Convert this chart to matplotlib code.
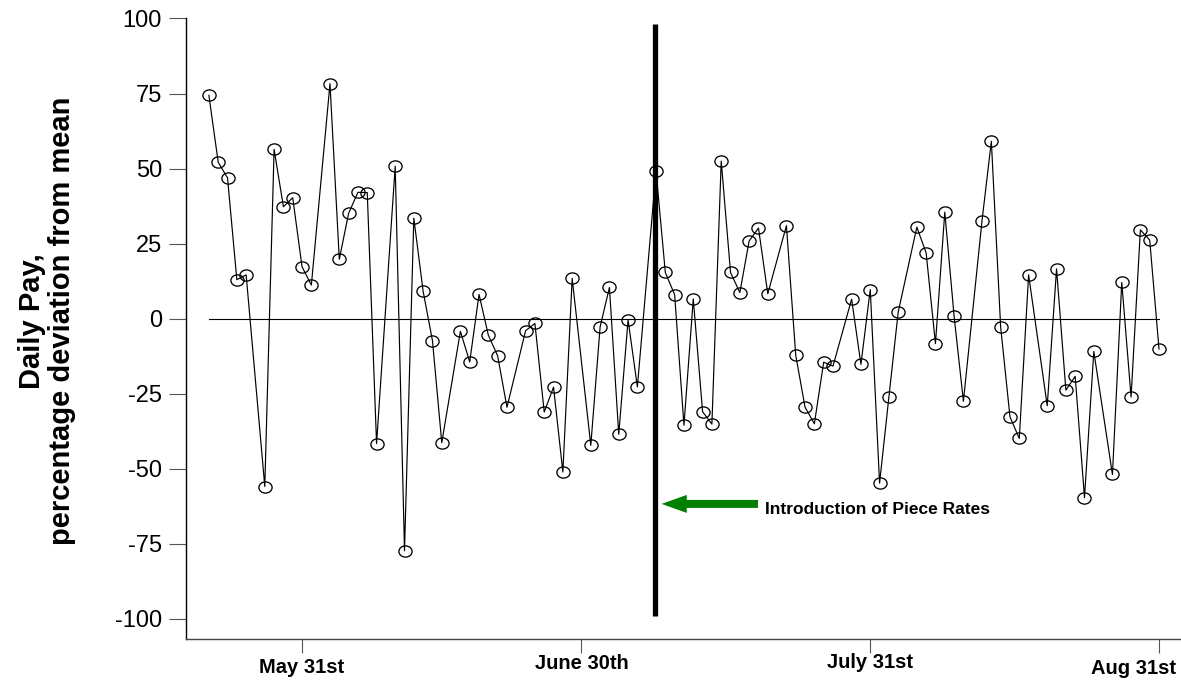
import matplotlib
matplotlib.use("Agg")
import matplotlib.pyplot as plt
from matplotlib.path import Path
from matplotlib.patches import FancyArrow
from matplotlib.transforms import ScaledTranslation
import numpy as np

plt.rcParams['font.family'] = ['Liberation Sans', 'DejaVu Sans']

# days relative to May 31st (0), one point per working day
days = [-10, -9, -8, -7, -6, -4, -3, -2, -1, 0, 1, 3, 4, 5, 6, 7, 8, 10, 11, 12,
        13, 14, 15, 17, 18, 19, 20, 21, 22, 24, 25, 26, 27, 28, 29, 31, 32, 33, 34, 35,
        36, 38, 39, 40, 41, 42, 43, 44, 45, 46, 47, 48, 49, 50, 52, 53, 54, 55, 56, 57,
        59, 60, 61, 62, 63, 64, 66, 67, 68, 69, 70, 71, 73, 74, 75, 76, 77, 78, 80, 81,
        82, 83, 84, 85, 87, 88, 89, 90, 91, 92]
pay_dev = [74.4, 52.1, 46.9, 13.0, 14.6, -55.9, 56.4, 37.3, 40.3, 17.3, 11.2, 78.3, 19.8, 35.1, 42.1, 42.0, -41.6, 50.8, -77.3, 33.5,
           9.1, -7.3, -41.3, -4.2, -14.4, 8.1, -5.5, -12.4, -29.5, -4.0, -1.6, -31.1, -22.8, -51.1, 13.4, -42.2, -2.7, 10.4, -38.5, -0.4,
           -22.7, 49.2, 15.4, 8.0, -35.5, 6.6, -31.0, -35.1, 52.5, 15.4, 8.7, 25.9, 30.2, 8.3, 31.0, -12.2, -29.5, -35.0, -14.5, -15.8,
           6.5, -15.2, 9.7, -54.8, -26.1, 2.2, 30.5, 21.9, -8.3, 35.5, 0.9, -27.5, 32.7, 59.1, -2.8, -32.7, -39.9, 14.6, -29.0, 16.6,
           -23.8, -19.2, -59.6, -10.9, -51.9, 12.1, -26.1, 29.6, 26.2, -10.1]

xtick_pos = [0, 30, 61, 92]
xtick_lab = ['May 31st', 'June 30th', 'July 31st', 'Aug 31st']
ytick_pos = [-100, -75, -50, -25, 0, 25, 50, 75, 100]

piece_rate_day = 37.9

fig = plt.figure(figsize=(11.81, 6.80), dpi=100)
W, H = 1181.0, 680.0
ax = fig.add_axes([185.7 / W, 1 - 639 / H, 1 - 185.7 / W, (639 - 18.5) / H])

# slightly squashed circle, like the original
circ = Path.unit_circle()
ell = Path(circ.vertices * np.array([1.0, 0.85]), circ.codes)

ax.plot([days[0], days[-1]], [0, 0], color='black', lw=0.8)
ax.plot(days, pay_dev, color='black', lw=0.85, marker=ell, markersize=9.5,
        markerfacecolor='none', markeredgecolor='black', markeredgewidth=0.95)

# introduction of piece rates
ax.plot([piece_rate_day, piece_rate_day], [-99.2, 98.2], color='black', lw=3.8,
        solid_capstyle='butt')
ax.add_patch(FancyArrow(48.95, -61.7, 38.6 - 48.95, 0, width=2.66, head_width=6.0,
                        head_length=2.7, length_includes_head=True,
                        color='#008000', lw=0))
ax.text(49.7, -63.6, 'Introduction of Piece Rates', fontsize=12.5,
        fontweight='bold', ha='left', va='center')

ax.set_xlim(-12.49, 94.36)
ax.set_ylim(-106.7, 100)
ax.spines['top'].set_visible(False)
ax.spines['right'].set_visible(False)
ax.spines['left'].set_linewidth(1.0)
ax.spines['bottom'].set_linewidth(1.0)
ax.spines['bottom'].set_color('#444444')

ax.set_yticks(ytick_pos)
ax.set_yticklabels([str(v) for v in ytick_pos])
ax.tick_params(axis='y', direction='out', length=12, width=0.8, color='#555555',
               labelsize=17, pad=5)
ax.set_xticks(xtick_pos)
ax.set_xticklabels(xtick_lab, fontweight='bold')
ax.tick_params(axis='x', direction='out', length=10, width=0.8, color='#555555',
               labelsize=14.5, pad=2)

# the original labels sit at slightly uneven heights; the last one is pulled inside the frame
xlabs = ax.get_xticklabels()
xlabs[-1].set_horizontalalignment('right')
for lab, dx, dy in zip(xlabs, [0, 0, 0, 12], [-1.5, 1.5, 2.2, -2.2]):
    lab.set_transform(lab.get_transform() + ScaledTranslation(dx / 72, dy / 72, fig.dpi_scale_trans))

fig.text(47 / W, 1 - 321 / H, 'Daily Pay,\npercentage deviation from mean',
         rotation=90, ha='center', va='center', multialignment='center',
         fontsize=21, fontweight='bold', linespacing=1.1)

fig.savefig('out.png', dpi=100)
